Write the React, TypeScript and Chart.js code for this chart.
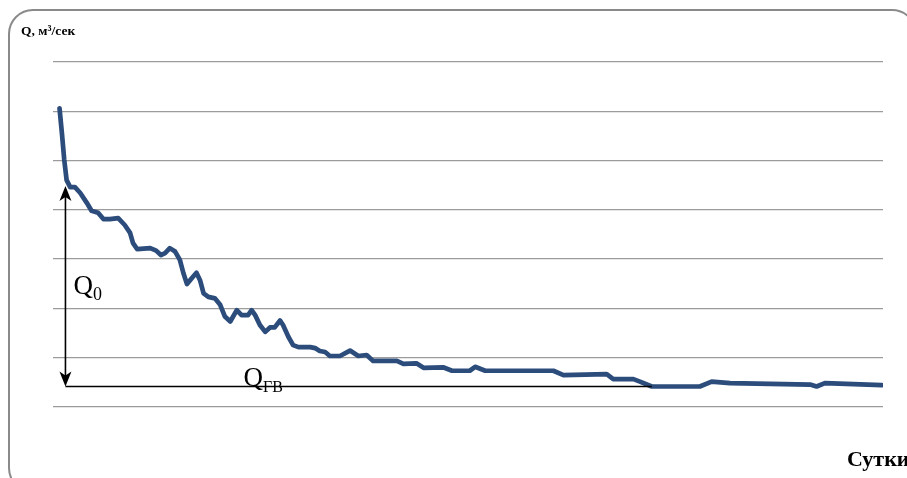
import React, { useEffect, useRef } from "react";
import { Chart, registerables } from "chart.js";

Chart.register(...registerables);

const days = [
  1.1, 1.5, 1.9, 2.3, 2.9, 3.7, 4.6, 5.7, 6.5, 7.6, 8.5, 9.6, 11, 12.1, 13, 13.5, 14.2,
  16.4, 17.4, 18.2, 18.9, 19.7, 20.6, 21.4, 22, 22.6, 23.4, 24.2, 24.8, 25.4, 26.2,
  27.3, 28.2, 29, 29.9, 31, 31.8, 32.9, 33.5, 34.1, 34.9, 35.8, 36.6, 37.4, 38.3,
  38.8, 39.7, 40.5, 41.4, 43.4, 44.2, 45, 45.9, 46.7, 48.4, 50.1, 51.5, 52.9, 54,
  58, 59.1, 61.3, 62.5, 65.8, 67.3, 70.3, 71.2, 72.9, 84.4, 86.1, 93.4, 94.5, 97.9,
  99, 101, 109.1, 111.1, 114.2, 127.7, 128.8, 130.2, 139.8,
];
const flow = [
  60.6, 55.6, 50.1, 46.0, 44.6, 44.6, 43.4, 41.4, 39.8, 39.4, 38.1, 38.1, 38.3, 36.9, 35.3, 33.2, 32.0,
  32.2, 31.7, 30.8, 31.2, 32.2, 31.5, 29.8, 27.1, 24.9, 26.1, 27.2, 25.7, 23.0, 22.3,
  22.0, 20.7, 18.3, 17.3, 19.6, 18.6, 18.6, 19.6, 18.6, 16.6, 15.2, 16.1, 16.1, 17.5,
  16.6, 14.2, 12.5, 12.1, 12.1, 11.9, 11.3, 11.1, 10.3, 10.3, 11.4, 10.3, 10.5, 9.3,
  9.3, 8.7, 8.8, 7.9, 8.0, 7.3, 7.3, 8.1, 7.3, 7.3, 6.4, 6.6, 5.6, 5.6,
  5.1, 4.1, 4.1, 5.1, 4.8, 4.5, 4.1, 4.8, 4.4,
];

// Axis ranges (gridlines every 10 units, no tick labels shown)
const xRange = [0, 140];
const yRange = [0, 70];
const yStep = 10;

// Annotation values: Q0 arrow and ground-water (QГВ) baseline
const arrowDay = 2.1;
const q0Level = 44.8;
const qgvLevel = 4.1;
const qgvEndDay = 101;

const titleText = "Q, м³/сек";
const xTitleText = "Сутки";

function drawHead(ctx: CanvasRenderingContext2D, x: number, tipY: number, up: boolean) {
  const s = up ? 1 : -1;
  ctx.beginPath();
  ctx.moveTo(x, tipY);
  ctx.lineTo(x - 6, tipY + s * 15);
  ctx.lineTo(x, tipY + s * 11);
  ctx.lineTo(x + 6, tipY + s * 15);
  ctx.closePath();
  ctx.fill();
}

const framePlugin = {
  id: "frame",
  beforeDraw(chart: any) {
    const ctx = chart.ctx as CanvasRenderingContext2D;
    ctx.save();
    ctx.fillStyle = "#ffffff";
    ctx.fillRect(0, 0, chart.width, chart.height);
    ctx.strokeStyle = "#8a8a8a";
    ctx.lineWidth = 2;
    ctx.beginPath();
    (ctx as any).roundRect(9, 10, 907, 482, 24);
    ctx.stroke();
    ctx.restore();
  },
};

const annotationPlugin = {
  id: "annot",
  afterDatasetsDraw(chart: any) {
    const ctx = chart.ctx as CanvasRenderingContext2D;
    const x = chart.scales.x;
    const y = chart.scales.y;
    const ax = x.getPixelForValue(arrowDay);
    const yTop = y.getPixelForValue(q0Level);
    const yBot = y.getPixelForValue(qgvLevel);
    const xEnd = x.getPixelForValue(qgvEndDay);
    ctx.save();
    ctx.strokeStyle = "#000";
    ctx.fillStyle = "#000";
    ctx.lineWidth = 1.6;
    ctx.beginPath();
    ctx.moveTo(ax, yBot);
    ctx.lineTo(xEnd, yBot);
    ctx.stroke();
    ctx.beginPath();
    ctx.moveTo(ax, yTop + 10);
    ctx.lineTo(ax, yBot - 10);
    ctx.stroke();
    drawHead(ctx, ax, yTop, true);
    drawHead(ctx, ax, yBot, false);

    ctx.textBaseline = "alphabetic";
    ctx.textAlign = "left";
    // Q0
    ctx.font = '27px "Liberation Serif"';
    ctx.fillText("Q", 73.5, 293.5);
    let w = ctx.measureText("Q").width;
    ctx.font = '18px "Liberation Serif"';
    ctx.fillText("0", 73.5 + w, 299.5);
    // QГВ
    ctx.font = '27px "Liberation Serif"';
    ctx.fillText("Q", 243.5, 386);
    w = ctx.measureText("Q").width;
    ctx.font = '16px "Liberation Serif"';
    ctx.fillText("ГВ", 243.5 + w, 391.5);

    // titles
    ctx.font = 'bold 13.5px "Liberation Serif"';
    ctx.fillText(titleText, 21, 35);
    ctx.font = 'bold 22px "Liberation Serif"';
    ctx.fillText(xTitleText, 847, 466);
    ctx.restore();
  },
};

export default function App() {
  const ref = useRef<HTMLCanvasElement | null>(null);
  useEffect(() => {
    if (!ref.current) return;
    const chart = new Chart(ref.current, {
      type: "line",
      data: {
        datasets: [
          {
            data: days.map((d, i) => ({ x: d, y: flow[i] })),
            borderColor: "#2c4c7c",
            borderWidth: 4.7,
            pointRadius: 0,
            tension: 0,
            borderJoinStyle: "round",
            borderCapStyle: "round",
            fill: false,
          },
        ],
      },
      options: {
        responsive: false,
        animation: false,
        devicePixelRatio: 1,
        layout: { padding: { left: 53, top: 62, right: 24, bottom: 71.3 } },
        plugins: { legend: { display: false }, tooltip: { enabled: false }, title: { display: false } },
        scales: {
          x: {
            type: "linear",
            min: xRange[0],
            max: xRange[1],
            grid: { display: false, drawTicks: false },
            border: { display: false },
            ticks: { display: false },
          },
          y: {
            min: yRange[0],
            max: yRange[1],
            ticks: { display: false, stepSize: yStep },
            grid: { color: "#9c9c9c", lineWidth: 1.2, drawTicks: false },
            border: { display: false },
          },
        },
      },
      plugins: [framePlugin, annotationPlugin],
    });
    return () => chart.destroy();
  }, []);
  return (
    <div style={{ position: "fixed", left: 0, top: 0, width: 907, height: 478, overflow: "hidden" }}>
      <canvas ref={ref} width={907} height={478} style={{ display: "block" }} />
    </div>
  );
}
